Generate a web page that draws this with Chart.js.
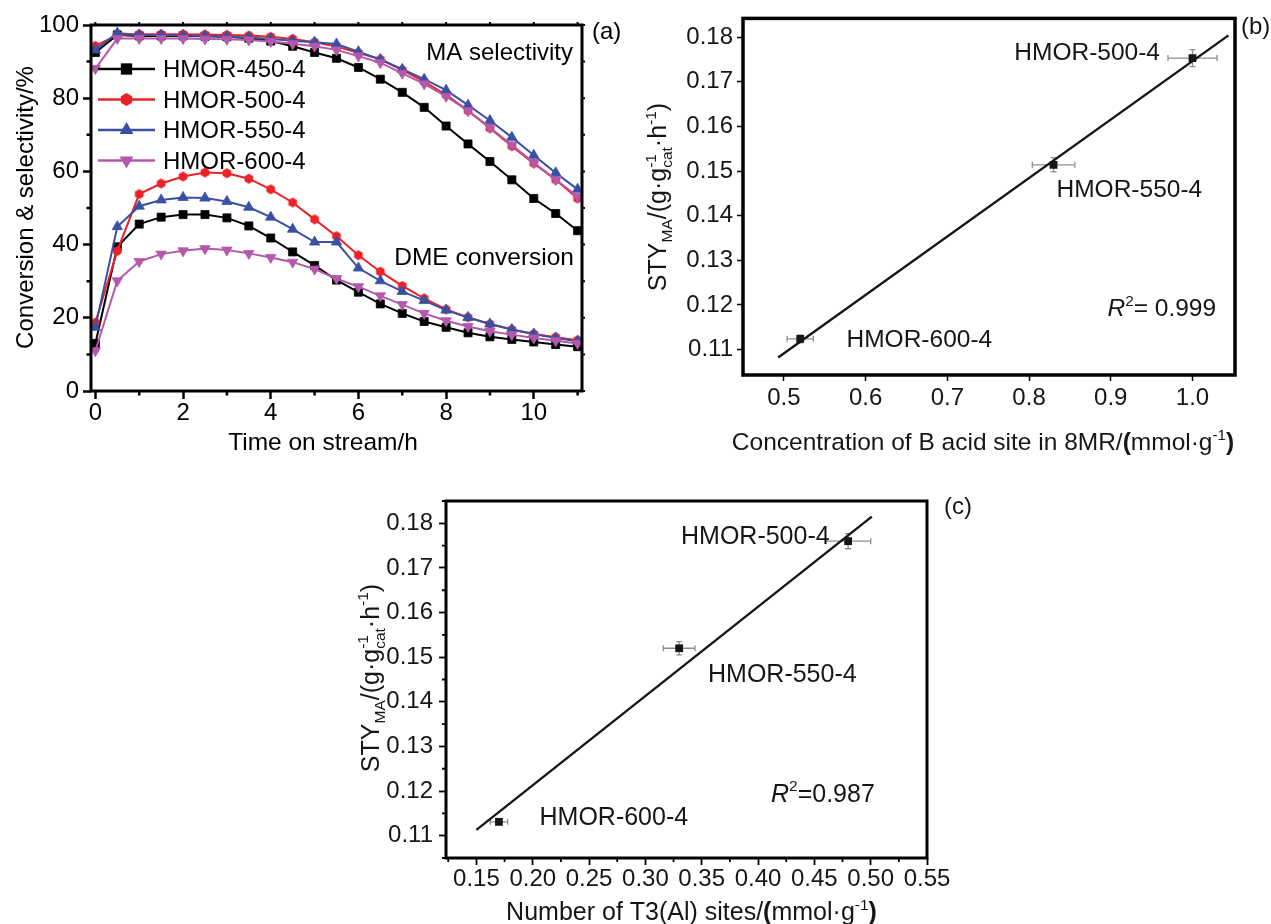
<!DOCTYPE html>
<html>
<head>
<meta charset="utf-8">
<title>HMOR catalysts</title>
<script src="https://cdn.jsdelivr.net/npm/chart.js@4.4.0/dist/chart.umd.min.js"></script>
<style>
  body { margin: 0; background: #fff; }
  #page { position: relative; width: 1271px; height: 924px; overflow: hidden; background: #fff; }
  #page canvas { position: absolute; }
</style>
</head>
<body>
<div id="page">
  <canvas id="chartA" width="640" height="470" style="left:0px;top:0px"></canvas>
  <canvas id="chartB" width="641" height="470" style="left:630px;top:0px"></canvas>
  <canvas id="chartC" width="640" height="444" style="left:340px;top:480px"></canvas>
</div>
<script>
const FONT = "'Liberation Sans', Arial, Helvetica, sans-serif";

// ---- (a) conversion / selectivity vs time on stream ----
const SAMPLES = ['HMOR-450-4', 'HMOR-500-4', 'HMOR-550-4', 'HMOR-600-4'];
const TIME = [0, 0.5, 1, 1.5, 2, 2.5, 3, 3.5, 4, 4.5, 5, 5.5, 6, 6.5, 7, 7.5, 8, 8.5, 9, 9.5, 10, 10.5, 11];

const MA_450 = [92.5, 97.3, 97.0, 97.0, 97.0, 96.9, 96.8, 96.4, 95.6, 94.2, 92.5, 90.9, 88.4, 85.2, 81.6, 77.5, 72.4, 67.5, 62.7, 57.7, 52.6, 48.5, 43.8];
const MA_500 = [94.3, 97.3, 97.5, 97.5, 97.5, 97.4, 97.3, 97.1, 96.8, 96.2, 95.3, 94.1, 92.4, 90.6, 87.7, 84.5, 80.9, 76.6, 71.8, 66.9, 62.2, 57.7, 52.6];
const MA_550 = [93.2, 97.8, 97.3, 97.2, 97.1, 97.0, 96.8, 96.6, 96.2, 95.7, 95.3, 94.8, 92.7, 90.6, 87.9, 85.2, 82.2, 78.1, 73.9, 69.3, 64.4, 59.6, 55.1];
const MA_600 = [88.1, 96.3, 96.3, 96.3, 96.3, 96.2, 96.1, 95.9, 95.5, 94.9, 94.2, 93.2, 91.5, 89.7, 86.8, 83.9, 80.5, 76.6, 72.0, 67.2, 62.4, 57.8, 53.1];

const DME_450 = [13.0, 39.4, 45.6, 47.5, 48.2, 48.2, 47.3, 45.1, 41.8, 38.0, 34.3, 30.3, 27.0, 23.8, 21.2, 19.0, 17.4, 15.9, 14.8, 14.1, 13.4, 12.7, 12.1];
const DME_500 = [18.7, 38.3, 53.8, 56.7, 58.6, 59.7, 59.5, 58.0, 55.1, 51.5, 46.9, 42.3, 37.1, 32.6, 28.7, 25.3, 22.3, 20.1, 18.3, 16.8, 15.6, 14.7, 13.9];
const DME_550 = [17.4, 44.9, 50.5, 52.2, 52.9, 52.7, 51.8, 50.2, 47.5, 44.2, 40.7, 40.7, 33.6, 30.1, 27.2, 24.7, 22.1, 20.1, 18.3, 16.8, 15.6, 14.5, 13.6];
const DME_600 = [11.0, 30.1, 35.4, 37.4, 38.3, 38.9, 38.5, 37.6, 36.5, 35.2, 33.3, 30.7, 28.5, 26.0, 23.6, 21.2, 19.2, 17.6, 16.3, 15.4, 14.5, 13.7, 13.0];

const X_TICKS_A = [0, 2, 4, 6, 8, 10];
const X_MINOR_A = [1, 3, 5, 7, 9, 11];
const Y_TICKS_A = [0, 20, 40, 60, 80, 100];
const Y_MINOR_A = [10, 30, 50, 70, 90];

// ---- (b) STY of MA vs B acid sites in 8MR ----
const LABELS_BC = ['HMOR-600-4', 'HMOR-550-4', 'HMOR-500-4'];
const B_ACID = [0.52, 0.83, 1.00];
const STY_B = [0.1124, 0.1514, 0.1753];
const B_ACID_ERR = [0.016, 0.026, 0.030];
const STY_B_ERR = [0.0009, 0.0016, 0.0019];
const FIT_B_X = [0.493, 1.044];
const FIT_B_Y = [0.1082, 0.1804];
const X_TICKS_B = [0.5, 0.6, 0.7, 0.8, 0.9, 1.0];
const Y_TICKS_B = [0.11, 0.12, 0.13, 0.14, 0.15, 0.16, 0.17, 0.18];

// ---- (c) STY of MA vs T3(Al) sites ----
const T3_AL = [0.17, 0.33, 0.48];
const STY_C = [0.1131, 0.1520, 0.1760];
const T3_AL_ERR = [0.0077, 0.014, 0.020];
const STY_C_ERR = [0.0006, 0.0015, 0.0017];
const FIT_C_X = [0.150, 0.501];
const FIT_C_Y = [0.1113, 0.1815];
const X_TICKS_C = [0.15, 0.20, 0.25, 0.30, 0.35, 0.40, 0.45, 0.50, 0.55];
const X_MINOR_C = [0.125, 0.175, 0.225, 0.275, 0.325, 0.375, 0.425, 0.475, 0.525];
const Y_TICKS_C = [0.11, 0.12, 0.13, 0.14, 0.15, 0.16, 0.17, 0.18];
const Y_MINOR_C = [0.105, 0.115, 0.125, 0.135, 0.145, 0.155, 0.165, 0.175, 0.185];

const COLORS = ['#000000', '#ec2227', '#3a51a3', '#b458ac'];
const INK = '#161616';

// filled hexagon used as the point style of the red series
function hexagon(color, r) {
  const c = document.createElement('canvas');
  c.width = c.height = Math.ceil(2 * r + 2);
  const g = c.getContext('2d');
  g.fillStyle = color;
  g.beginPath();
  for (let k = 0; k < 6; k++) {
    const ang = Math.PI / 3 * k - Math.PI / 2;
    const px = c.width / 2 + r * Math.cos(ang), py = c.height / 2 + r * Math.sin(ang);
    k ? g.lineTo(px, py) : g.moveTo(px, py);
  }
  g.closePath();
  g.fill();
  return c;
}

const MARKERS = [
  { style: 'rect', rot: 0, r: 5.7 },
  { style: hexagon(COLORS[1], 5), rot: 0, r: 5 },
  { style: 'triangle', rot: 0, r: 6 },
  { style: 'triangle', rot: 180, r: 6 }
];
const LEGEND_MARKERS = [
  { style: 'rect', rot: 0, r: 8 },
  { style: hexagon(COLORS[1], 6.5), rot: 0, r: 6.5 },
  { style: 'triangle', rot: 0, r: 8 },
  { style: 'triangle', rot: 180, r: 8 }
];

function marker(ctx, m, color, x, y) {
  ctx.save();
  ctx.fillStyle = color;
  if (typeof m.style !== 'string') {
    ctx.drawImage(m.style, x - m.style.width / 2, y - m.style.height / 2);
  } else if (m.style === 'rect') {
    const s = m.r * Math.SQRT1_2;
    ctx.fillRect(x - s, y - s, 2 * s, 2 * s);
  } else {
    let ang = m.rot * Math.PI / 180;
    ctx.beginPath();
    for (let k = 0; k < 3; k++) {
      const px = x + Math.sin(ang) * m.r, py = y - Math.cos(ang) * m.r;
      k ? ctx.lineTo(px, py) : ctx.moveTo(px, py);
      ang += 2 * Math.PI / 3;
    }
    ctx.closePath();
    ctx.fill();
  }
  ctx.restore();
}

// text with sub/superscripts: parts are {t, pos:'sub'|'sup', bold, italic} or {stack:[sup, sub]}
function partFont(p, size) {
  const s = (p.pos || p.stack) ? size * 0.62 : size;
  return (p.italic ? 'italic ' : '') + (p.bold ? 'bold ' : '') + s + 'px ' + FONT;
}
function partWidth(ctx, p, size) {
  ctx.font = partFont(p, size);
  if (p.stack) return Math.max(...p.stack.map(t => ctx.measureText(t).width));
  return ctx.measureText(p.t).width;
}
function drawRich(ctx, parts, x, y, size, align, color) {
  ctx.save();
  ctx.fillStyle = color || INK;
  ctx.textAlign = 'left';
  ctx.textBaseline = 'alphabetic';
  const total = parts.reduce((w, p) => w + partWidth(ctx, p, size), 0);
  let cx = align === 'center' ? x - total / 2 : align === 'right' ? x - total : x;
  parts.forEach(p => {
    const w = partWidth(ctx, p, size);
    if (p.stack) {
      ctx.fillText(p.stack[0], cx, y - size * 0.42);
      ctx.fillText(p.stack[1], cx, y + size * 0.24);
    } else {
      const dy = p.pos === 'sup' ? -size * 0.42 : p.pos === 'sub' ? size * 0.24 : 0;
      ctx.fillText(p.t, cx, y + dy);
    }
    cx += w;
  });
  ctx.restore();
}
function drawVertical(ctx, parts, baseX, midY, size, color) {
  ctx.save();
  ctx.translate(baseX, midY);
  ctx.rotate(-Math.PI / 2);
  drawRich(ctx, parts, 0, 0, size, 'center', color);
  ctx.restore();
}

function tickMarks(chart, axis, values, len, width, side) {
  const { ctx, chartArea: a } = chart;
  const s = chart.scales[axis];
  ctx.save();
  ctx.strokeStyle = '#000';
  ctx.lineWidth = width;
  ctx.beginPath();
  values.forEach(v => {
    const p = s.getPixelForValue(v);
    if (side === 'bottom') { ctx.moveTo(p, a.bottom); ctx.lineTo(p, a.bottom + len); }
    if (side === 'top') { ctx.moveTo(p, a.top); ctx.lineTo(p, a.top - len); }
    if (side === 'left') { ctx.moveTo(a.left, p); ctx.lineTo(a.left - len, p); }
    if (side === 'right') { ctx.moveTo(a.right, p); ctx.lineTo(a.right + len, p); }
  });
  ctx.stroke();
  ctx.restore();
}

function frame(chart, width) {
  const { ctx, chartArea: a } = chart;
  ctx.save();
  ctx.strokeStyle = '#000';
  ctx.lineWidth = width;
  ctx.lineJoin = 'miter';
  ctx.strokeRect(a.left, a.top, a.right - a.left, a.bottom - a.top);
  ctx.restore();
}

function errorBars(chart, xs, ys, xe, ye) {
  const { ctx } = chart;
  const x = chart.scales.x, y = chart.scales.y;
  ctx.save();
  ctx.strokeStyle = '#8e8e8e';
  ctx.lineWidth = 1.3;
  ctx.beginPath();
  xs.forEach((v, i) => {
    const px = x.getPixelForValue(v), py = y.getPixelForValue(ys[i]);
    const x0 = x.getPixelForValue(v - xe[i]), x1 = x.getPixelForValue(v + xe[i]);
    const y0 = y.getPixelForValue(ys[i] - ye[i]), y1 = y.getPixelForValue(ys[i] + ye[i]);
    ctx.moveTo(x0, py); ctx.lineTo(x1, py);
    ctx.moveTo(x0, py - 3); ctx.lineTo(x0, py + 3);
    ctx.moveTo(x1, py - 3); ctx.lineTo(x1, py + 3);
    ctx.moveTo(px, y0); ctx.lineTo(px, y1);
    ctx.moveTo(px - 3, y0); ctx.lineTo(px + 3, y0);
    ctx.moveTo(px - 3, y1); ctx.lineTo(px + 3, y1);
  });
  ctx.stroke();
  ctx.restore();
}

// linear axis with fixed ticks and a fixed box size so the plot area lands where wanted
function axis(min, max, ticks, digits, o) {
  return {
    type: 'linear',
    min: min,
    max: max,
    afterBuildTicks: s => { s.ticks = ticks.map(v => ({ value: v })); },
    afterFit: s => {
      if (o.width !== undefined) s.width = o.width;
      if (o.height !== undefined) s.height = o.height;
    },
    border: { display: false },
    grid: { display: true, drawOnChartArea: false, drawTicks: true, tickLength: o.tick, tickWidth: o.tickWidth, tickColor: '#000' },
    ticks: {
      autoSkip: false, maxRotation: 0, minRotation: 0, padding: o.pad,
      color: o.color, font: { family: FONT, size: o.size },
      callback: v => Number(v).toFixed(digits)
    }
  };
}

const BASE_OPTIONS = {
  responsive: false,
  devicePixelRatio: 1,
  animation: false,
  events: [],
  plugins: { legend: { display: false }, tooltip: { enabled: false } }
};

function seriesA(i, ys) {
  const m = MARKERS[i];
  return {
    label: SAMPLES[i],
    data: TIME.map((t, k) => ({ x: t, y: ys[k] })),
    showLine: true,
    borderColor: COLORS[i],
    backgroundColor: COLORS[i],
    borderWidth: 2,
    pointStyle: m.style,
    pointRotation: m.rot,
    pointRadius: m.r,
    pointBorderWidth: 0.8,
    pointBorderColor: COLORS[i],
    order: 3 - i
  };
}

// ---------- chart (a) ----------
const plotA = {
  id: 'plotA',
  afterDraw(chart) {
    const ctx = chart.ctx;
    frame(chart, 3);
    tickMarks(chart, 'x', X_MINOR_A, 4.5, 2.5, 'bottom');
    tickMarks(chart, 'y', Y_MINOR_A, 4.5, 2.5, 'left');
    tickMarks(chart, 'x', X_TICKS_A.concat(X_MINOR_A), 3, 2, 'top');
    tickMarks(chart, 'y', Y_TICKS_A.concat(Y_MINOR_A), 3, 2, 'right');

    // legend
    const rows = [69, 99.5, 130, 160.5];
    SAMPLES.forEach((name, i) => {
      ctx.save();
      ctx.strokeStyle = COLORS[i];
      ctx.lineWidth = 2.6;
      ctx.beginPath();
      ctx.moveTo(98, rows[i]);
      ctx.lineTo(155, rows[i]);
      ctx.stroke();
      ctx.restore();
      marker(ctx, LEGEND_MARKERS[i], COLORS[i], 126.5, rows[i]);
      drawRich(ctx, [{ t: name }], 163, rows[i] + 8.4, 24, 'left', '#000');
    });

    drawRich(ctx, [{ t: 'MA selectivity' }], 573, 59.5, 24, 'right', '#000');
    drawRich(ctx, [{ t: 'DME conversion' }], 574, 265, 24.5, 'right', '#000');
    drawRich(ctx, [{ t: '(a)' }], 592, 39, 24, 'left', '#000');
    drawVertical(ctx, [{ t: 'Conversion & selectivity/%' }], 33, 207.5, 24, '#000');
    drawRich(ctx, [{ t: 'Time on stream/h' }], 323, 450, 24.5, 'center', '#000');
  }
};

new Chart(document.getElementById('chartA'), {
  type: 'scatter',
  data: {
    datasets: [
      seriesA(0, MA_450), seriesA(0, DME_450),
      seriesA(1, MA_500), seriesA(1, DME_500),
      seriesA(2, MA_550), seriesA(2, DME_550),
      seriesA(3, MA_600), seriesA(3, DME_600)
    ]
  },
  options: Object.assign({}, BASE_OPTIONS, {
    layout: { padding: { top: 25, right: 58, left: 0, bottom: 0 } },
    scales: {
      x: axis(-0.1, 11.1, X_TICKS_A, 0, { height: 79, tick: 8, tickWidth: 2.5, pad: 0, size: 24, color: '#000' }),
      y: axis(0, 100, Y_TICKS_A, 0, { width: 91, tick: 8, tickWidth: 2.5, pad: 4, size: 24, color: '#000' })
    }
  }),
  plugins: [plotA]
});

// ---------- chart (b) ----------
const STY_TITLE = [
  { t: 'STY' }, { t: 'MA', pos: 'sub' }, { t: '/(g·g' }, { stack: ['-1', 'cat'] },
  { t: '·h' }, { t: '-1', pos: 'sup' }, { t: ')' }
];

const plotB = {
  id: 'plotB',
  beforeDatasetsDraw(chart) {
    errorBars(chart, B_ACID, STY_B, B_ACID_ERR, STY_B_ERR);
  },
  afterDraw(chart) {
    const ctx = chart.ctx;
    frame(chart, 3.5);
    drawRich(ctx, [{ t: LABELS_BC[2] }], 530, 60, 24.5, 'right');
    drawRich(ctx, [{ t: LABELS_BC[1] }], 426.5, 196.5, 24.5, 'left');
    drawRich(ctx, [{ t: LABELS_BC[0] }], 216.5, 347, 24.5, 'left');
    drawRich(ctx, [{ t: 'R', italic: true }, { t: '2', pos: 'sup' }, { t: '= 0.999' }], 477.5, 316, 24.5, 'left');
    drawRich(ctx, [{ t: '(b)' }], 611, 34, 24, 'left');
    drawVertical(ctx, STY_TITLE, 36, 197, 25);
    drawRich(ctx, [
      { t: 'Concentration of B acid site in 8MR/' }, { t: '(', bold: true },
      { t: 'mmol·g' }, { t: '-1', pos: 'sup' }, { t: ')', bold: true }
    ], 353, 450, 24.5, 'center');
  }
};

new Chart(document.getElementById('chartB'), {
  type: 'scatter',
  data: {
    datasets: [
      {
        label: 'STY',
        data: B_ACID.map((v, i) => ({ x: v, y: STY_B[i] })),
        pointStyle: 'rect', pointRadius: 5.5, pointBorderWidth: 0,
        backgroundColor: INK, borderColor: INK
      },
      {
        label: 'fit',
        data: FIT_B_X.map((v, i) => ({ x: v, y: FIT_B_Y[i] })),
        showLine: true, borderColor: INK, borderWidth: 2.4, pointRadius: 0
      }
    ]
  },
  options: Object.assign({}, BASE_OPTIONS, {
    layout: { padding: { top: 11, right: 36, left: 0, bottom: 0 } },
    scales: {
      x: axis(0.45, 1.052, X_TICKS_B, 1, { height: 95, tick: 6, tickWidth: 1.5, pad: 3, size: 24, color: INK }),
      y: axis(0.1043, 0.1842, Y_TICKS_B, 2, { width: 113, tick: 6, tickWidth: 1.5, pad: 4, size: 24, color: INK })
    }
  }),
  plugins: [plotB]
});

// ---------- chart (c) ----------
const plotC = {
  id: 'plotC',
  beforeDatasetsDraw(chart) {
    errorBars(chart, T3_AL, STY_C, T3_AL_ERR, STY_C_ERR);
  },
  afterDraw(chart) {
    const ctx = chart.ctx;
    frame(chart, 3);
    tickMarks(chart, 'x', X_MINOR_C, 4, 1.8, 'bottom');
    tickMarks(chart, 'y', Y_MINOR_C, 4, 1.8, 'left');
    drawRich(ctx, [{ t: LABELS_BC[2] }], 341, 63.5, 25, 'left');
    drawRich(ctx, [{ t: LABELS_BC[1] }], 368, 201.5, 25, 'left');
    drawRich(ctx, [{ t: LABELS_BC[0] }], 199.5, 345, 25, 'left');
    drawRich(ctx, [{ t: 'R', italic: true }, { t: '2', pos: 'sup' }, { t: '=0.987' }], 431, 321.5, 25, 'left');
    drawRich(ctx, [{ t: '(c)' }], 604, 34, 24, 'left');
    drawVertical(ctx, STY_TITLE, 38.5, 198, 25);
    drawRich(ctx, [
      { t: 'Number of T3(Al) sites/' }, { t: '(', bold: true },
      { t: 'mmol·g' }, { t: '-1', pos: 'sup' }, { t: ')', bold: true }
    ], 351.5, 440, 25, 'center');
  }
};

new Chart(document.getElementById('chartC'), {
  type: 'scatter',
  data: {
    datasets: [
      {
        label: 'STY',
        data: T3_AL.map((v, i) => ({ x: v, y: STY_C[i] })),
        pointStyle: 'rect', pointRadius: 5.5, pointBorderWidth: 0,
        backgroundColor: INK, borderColor: INK
      },
      {
        label: 'fit',
        data: FIT_C_X.map((v, i) => ({ x: v, y: FIT_C_Y[i] })),
        showLine: true, borderColor: INK, borderWidth: 2.4, pointRadius: 0
      }
    ]
  },
  options: Object.assign({}, BASE_OPTIONS, {
    layout: { padding: { top: 21, right: 53, left: 0, bottom: 0 } },
    scales: {
      x: axis(0.123, 0.55, X_TICKS_C, 2, { height: 66, tick: 7, tickWidth: 1.8, pad: 0, size: 24, color: INK }),
      y: axis(0.105, 0.185, Y_TICKS_C, 2, { width: 106, tick: 7, tickWidth: 1.8, pad: 6, size: 24, color: INK })
    }
  }),
  plugins: [plotC]
});
</script>
</body>
</html>
